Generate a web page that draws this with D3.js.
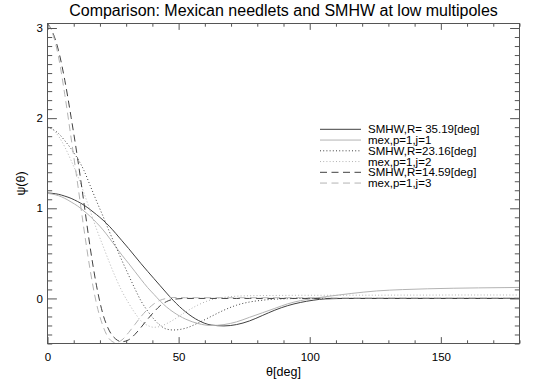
<!DOCTYPE html>
<html>
<head>
<meta charset="utf-8">
<script src="https://cdn.jsdelivr.net/npm/d3@7"></script>
<style>
  html, body { margin: 0; padding: 0; background: #fff; }
  svg { display: block; font-family: "Liberation Sans", Arial, Helvetica, sans-serif; }
</style>
</head>
<body>
<svg id="chart" width="540" height="386"></svg>
<script>
// ---- data ----
const theta = [0,1.7,4.2,6.6,9,11.5,13.9,16.3,18.7,21.2,23.6,26,28.4,30.9,33.3,35.7,38.2,40.6,43,45.4,47.9,
  52.7,57.6,62.4,67.3,72.1,77,81.9,86.7,91.6,96.4,101.3,106.1,115.8,125.5,135.3,145,154.7,164.4,174.1,180];

const smhw35 = [1.17,1.166,1.155,1.135,1.11,1.075,1.035,0.985,0.93,0.868,0.80,0.722,0.64,0.555,0.47,0.385,0.30,0.22,0.14,0.06,-0.02,
  -0.15,-0.245,-0.295,-0.305,-0.29,-0.25,-0.19,-0.13,-0.08,-0.045,-0.02,-0.005,0,0,0,0,0,0,0,0];
const mexJ1 = [1.165,1.158,1.14,1.11,1.07,1.025,0.97,0.91,0.84,0.76,0.67,0.575,0.48,0.39,0.30,0.21,0.12,0.045,-0.03,-0.095,-0.15,
  -0.23,-0.28,-0.30,-0.29,-0.26,-0.21,-0.16,-0.11,-0.06,-0.025,0.0,0.02,0.055,0.083,0.098,0.107,0.113,0.117,0.12,0.122];
const smhw23 = [1.90,1.88,1.83,1.75,1.66,1.55,1.42,1.25,1.08,0.91,0.74,0.58,0.42,0.26,0.11,-0.03,-0.14,-0.23,-0.30,-0.34,-0.35,
  -0.33,-0.27,-0.20,-0.13,-0.075,-0.04,-0.02,-0.008,-0.003,0,0,0,0,0,0,0,0,0,0,0];
const mexJ2 = [1.91,1.88,1.80,1.68,1.53,1.36,1.17,0.97,0.77,0.58,0.40,0.23,0.08,-0.05,-0.16,-0.25,-0.30,-0.32,-0.31,-0.28,-0.24,
  -0.15,-0.07,-0.015,0.012,0.025,0.03,0.032,0.033,0.034,0.035,0.035,0.035,0.036,0.036,0.037,0.037,0.038,0.038,0.038,0.038];
const smhw14 = [3.05,2.97,2.75,2.42,2.01,1.55,1.06,0.56,0.14,-0.18,-0.36,-0.45,-0.48,-0.46,-0.40,-0.32,-0.23,-0.15,-0.08,-0.035,-0.01,
  0,0,0,0,0,0,0,0,0,0,0,0,0,0,0,0,0,0,0,0];
const mexJ3 = [3.05,2.96,2.68,2.26,1.78,1.27,0.77,0.31,-0.06,-0.31,-0.45,-0.49,-0.46,-0.38,-0.29,-0.20,-0.12,-0.06,-0.02,0.0,0.01,
  0.008,0.008,0.008,0.008,0.008,0.008,0.008,0.008,0.008,0.008,0.008,0.006,0.005,0.005,0.005,0.005,0.005,0.005,0.005,0.005];

const seriesNames = ["SMHW,R= 35.19[deg]","mex,p=1,j=1","SMHW,R=23.16[deg]","mex,p=1,j=2","SMHW,R=14.59[deg]","mex,p=1,j=3"];
const seriesValues = [smhw35, mexJ1, smhw23, mexJ2, smhw14, mexJ3];
const xMajorTicks = [0,50,100,150];
const yMajorTicks = [0,1,2,3];
const titleText = "Comparison: Mexican needlets and SMHW at low multipoles";
const xLabel = "θ[deg]";
const yLabel = "ψ(θ)";

// ---- styles ----
const dark = "#404040", light = "#b3b3b3", axisCol = "#555";
const styles = [
  {color: dark, dash: null},
  {color: light, dash: null},
  {color: dark, dash: "1,2.2"},
  {color: light, dash: "1,2.2"},
  {color: dark, dash: "7,4.5"},
  {color: light, dash: "7,4.5"}
];

const L = 47.5, R = 519.5, T = 23.5, B = 343.5;
const svg = d3.select("#chart");
const x = d3.scaleLinear().domain([0,180]).range([L,R]);
const y = d3.scaleLinear().domain([-0.5,3.05]).range([B,T]);

svg.append("defs").append("clipPath").attr("id","clip")
  .append("rect").attr("x",L).attr("y",T).attr("width",R-L).attr("height",B-T);

// curves
const line = d3.line().x(d => x(d[0])).y(d => y(d[1])).curve(d3.curveMonotoneX);
const g = svg.append("g").attr("clip-path","url(#clip)");
seriesValues.forEach((vals, i) => {
  g.append("path")
    .datum(theta.map((t, k) => [t, vals[k]]))
    .attr("d", line)
    .attr("fill","none")
    .attr("stroke", styles[i].color)
    .attr("stroke-width", 1)
    .attr("stroke-dasharray", styles[i].dash);
});

// axes
const xMinor = d3.range(0,181,10).filter(v => !xMajorTicks.includes(v));
const yMinor = d3.range(-5,31).map(v => v/10).filter(v => !yMajorTicks.includes(v) && v <= 3.05);
function styleAxis(sel) {
  sel.select(".domain").remove();
  sel.selectAll("line").attr("stroke", axisCol);
  sel.selectAll("text").attr("fill","#000").attr("font-size", 11.5)
    .attr("font-family", "Liberation Sans, Arial, sans-serif");
}
svg.append("g").attr("transform",`translate(0,${B})`)
  .call(d3.axisBottom(x).tickValues(xMajorTicks).tickSizeInner(-6.4).tickSizeOuter(0).tickPadding(9).tickFormat(d3.format("d")))
  .call(styleAxis);
svg.append("g").attr("transform",`translate(0,${B})`)
  .call(d3.axisBottom(x).tickValues(xMinor).tickSizeInner(-3.2).tickSizeOuter(0).tickFormat(""))
  .call(styleAxis);
svg.append("g").attr("transform",`translate(0,${T})`)
  .call(d3.axisTop(x).tickValues(xMajorTicks).tickSizeInner(-6.4).tickSizeOuter(0).tickFormat(""))
  .call(styleAxis);
svg.append("g").attr("transform",`translate(0,${T})`)
  .call(d3.axisTop(x).tickValues(xMinor).tickSizeInner(-3.2).tickSizeOuter(0).tickFormat(""))
  .call(styleAxis);
svg.append("g").attr("transform",`translate(${L},0)`)
  .call(d3.axisLeft(y).tickValues(yMajorTicks).tickSizeInner(-9.4).tickSizeOuter(0).tickPadding(4.5).tickFormat(d3.format("d")))
  .call(styleAxis);
svg.append("g").attr("transform",`translate(${L},0)`)
  .call(d3.axisLeft(y).tickValues(yMinor).tickSizeInner(-4.7).tickSizeOuter(0).tickFormat(""))
  .call(styleAxis);
svg.append("g").attr("transform",`translate(${R},0)`)
  .call(d3.axisRight(y).tickValues(yMajorTicks).tickSizeInner(-9.4).tickSizeOuter(0).tickFormat(""))
  .call(styleAxis);
svg.append("g").attr("transform",`translate(${R},0)`)
  .call(d3.axisRight(y).tickValues(yMinor).tickSizeInner(-4.7).tickSizeOuter(0).tickFormat(""))
  .call(styleAxis);

// frame
svg.append("rect").attr("x",L).attr("y",T).attr("width",R-L).attr("height",B-T)
  .attr("fill","none").attr("stroke",axisCol).attr("stroke-width",1);

// title and labels
svg.append("text").attr("x",(L+R)/2).attr("y",16).attr("text-anchor","middle")
  .attr("font-size",16).attr("fill","#000").text(titleText);
svg.append("text").attr("x",(L+R)/2).attr("y",376).attr("text-anchor","middle")
  .attr("font-size",12.5).attr("fill","#000").text(xLabel);
svg.append("text").attr("transform",`translate(25,${(T+B)/2}) rotate(-90)`).attr("text-anchor","middle")
  .attr("font-size",12.5).attr("fill","#000").text(yLabel);

// legend
const lg = svg.append("g");
seriesNames.forEach((name, i) => {
  const yy = 129.3 + i*10.75;
  lg.append("line").attr("x1",320).attr("x2",361).attr("y1",yy).attr("y2",yy)
    .attr("stroke", styles[i].color).attr("stroke-width",1).attr("stroke-dasharray", styles[i].dash);
  lg.append("text").attr("x",368).attr("y",yy).attr("dy","0.36em")
    .attr("font-size",11.5).attr("fill","#000").text(name);
});
</script>
</body>
</html>
